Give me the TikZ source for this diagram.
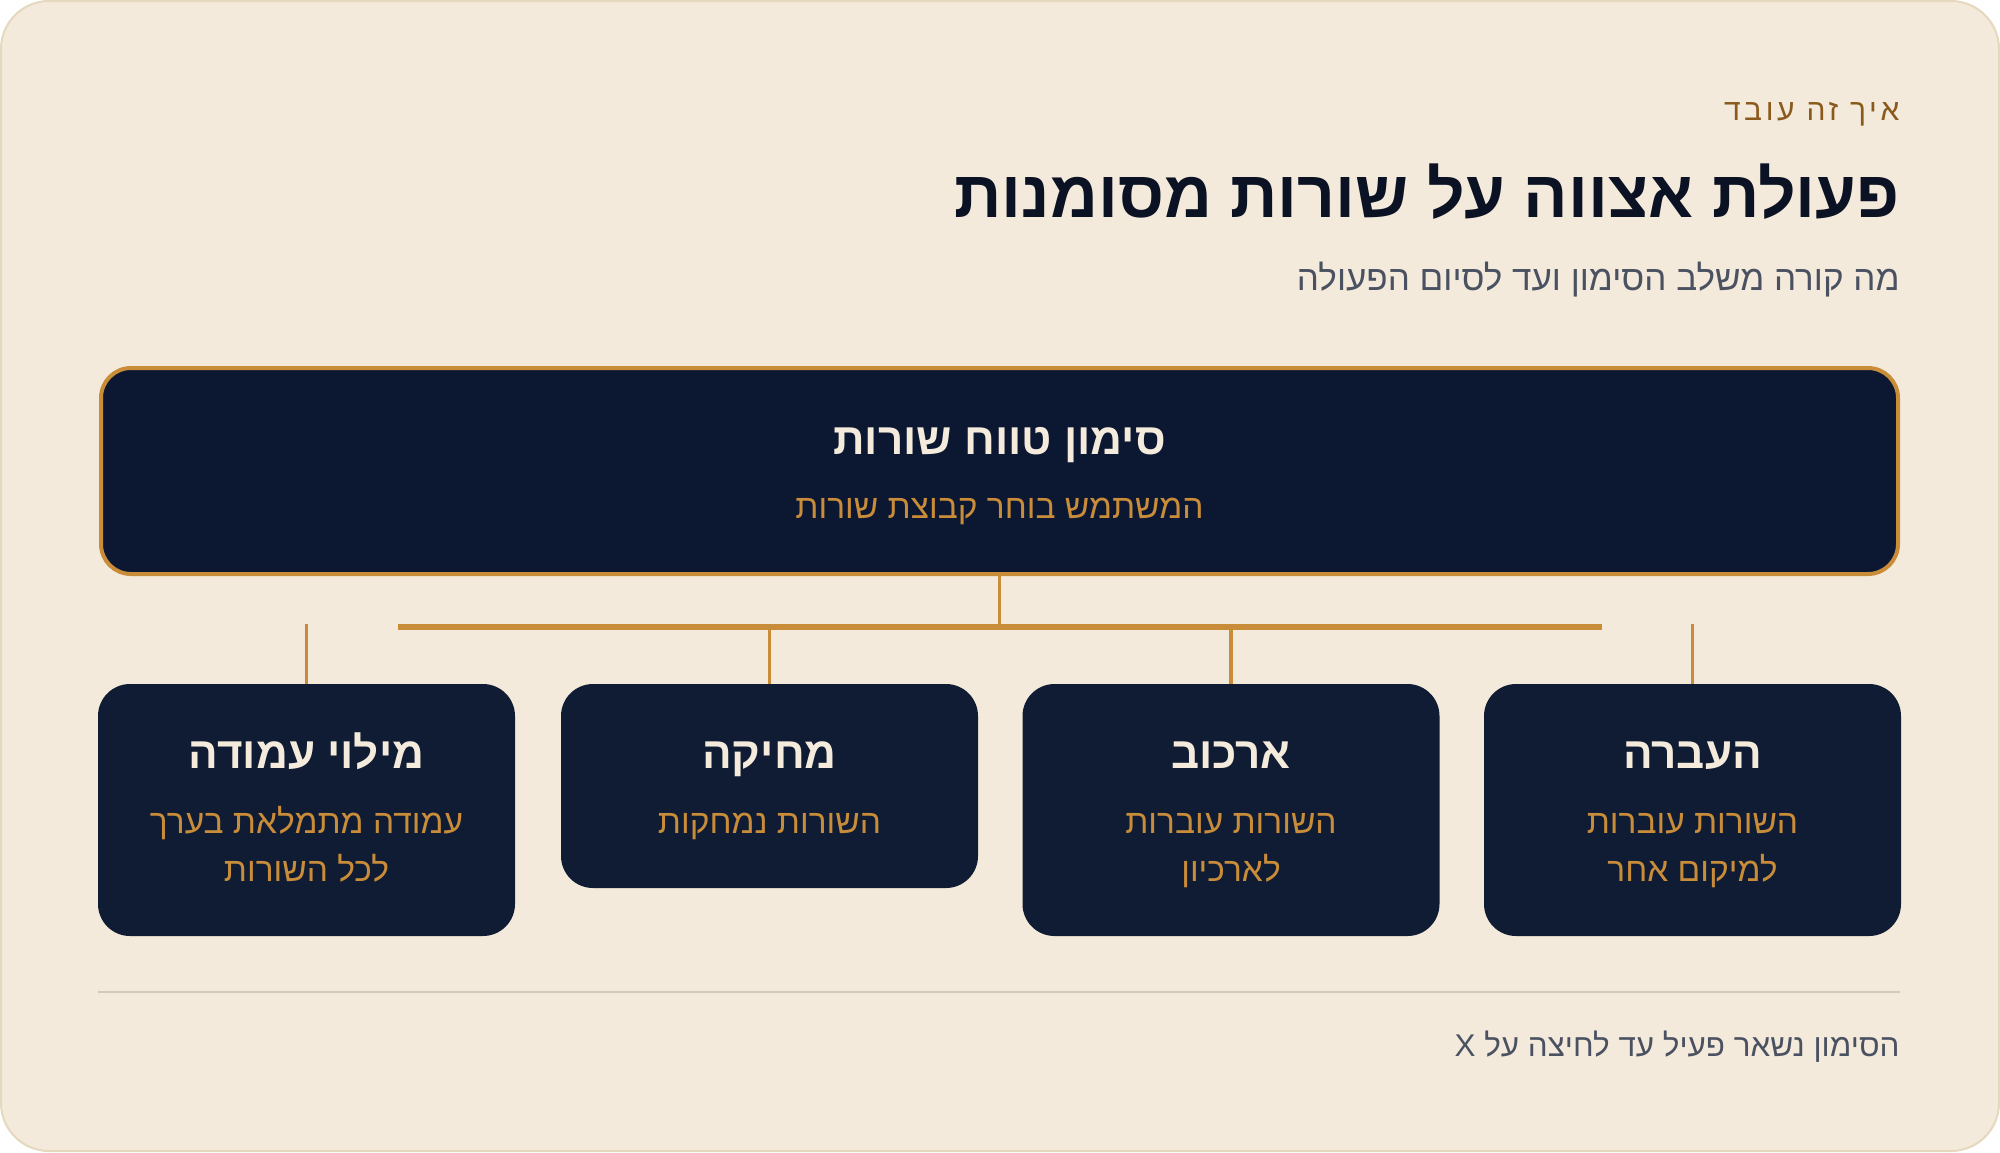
\documentclass[tikz,border=0pt]{standalone}
\usepackage{fontspec}
\setmainfont{Liberation Sans}
\newfontfamily\hebfont[Script=Hebrew]{Liberation Sans}
\newfontfamily\hebspaced[Script=Hebrew,LetterSpace=12]{Liberation Sans}
\TeXXeTstate=1
\usetikzlibrary{positioning}

\definecolor{paper}{HTML}{F4EADB}
\definecolor{paperline}{HTML}{E4D9BF}
\definecolor{topnavy}{HTML}{0C1731}
\definecolor{cardnavy}{HTML}{0F1C33}
\definecolor{gold}{HTML}{C98D3A}
\definecolor{cream}{HTML}{F5EBDD}
\definecolor{kicker}{HTML}{8A5A1C}
\definecolor{ink}{HTML}{0B1224}
\definecolor{slate}{HTML}{4A5262}
\definecolor{rule}{HTML}{D3C9B6}

\newcommand{\heb}[1]{\beginR #1\endR}

\begin{document}
\begin{tikzpicture}[x=1pt,y=-1pt,
    card/.style={fill=cardnavy,rounded corners=32pt,inner sep=0pt,minimum width=417pt},
    link/.style={draw=gold,line width=3.5pt},
    head/.style={anchor=base,text=cream,font=\hebfont\bfseries\fontsize{44}{52}\selectfont},
    sub/.style={anchor=base,text=gold,align=center,font=\hebfont\fontsize{33.5}{48}\selectfont}]
    \useasboundingbox (0,0) rectangle (2000,1152);
    \draw[fill=paper,draw=paperline,line width=2pt,rounded corners=48pt] (1,1) rectangle (1999,1151);

    % header
    \node[anchor=base east,text=kicker,font=\hebspaced\fontsize{30}{36}\selectfont] (kick) at (1903,120) {\heb{איך זה עובד}};
    \node[anchor=base east,text=ink,font=\hebfont\bfseries\fontsize{66}{72}\selectfont] (title) at (1903,217) {\heb{פעולת אצווה על שורות מסומנות}};
    \node[anchor=base east,text=slate,font=\hebfont\fontsize{35}{40}\selectfont] (subtitle) at (1903,290) {\heb{מה קורה משלב הסימון ועד לסיום הפעולה}};

    % selection box
    \node[fill=topnavy,draw=gold,line width=4pt,rounded corners=30pt,minimum width=1797pt,minimum height=206pt] (top) at (999.5,471) {};
    \node[head] (toph) at (999.5,454) {\heb{סימון טווח שורות}};
    \node[sub] (tops) at (999.5,518) {\heb{המשתמש בוחר קבוצת שורות}};

    % actions
    \node[card,minimum height=252pt] (move) at (1692.5,810) {};
    \node[card,minimum height=252pt] (arch) at (1231,810) {};
    \node[card,minimum height=204pt] (del) at (769.5,786) {};
    \node[card,minimum height=252pt] (fill) at (306.5,810) {};

    \node[head] (moveh) at (1692.5,768) {\heb{העברה}};
    \node[head] (archh) at (1231,768) {\heb{ארכוב}};
    \node[head] (delh) at (769.5,768) {\heb{מחיקה}};
    \node[head] (fillh) at (306.5,768) {\heb{מילוי עמודה}};

    % two-line texts sit on their last line
    \node[sub] (moves) at (1692.5,881) {\heb{השורות עוברות}\\\heb{למיקום אחר}};
    \node[sub] (archs) at (1231,881) {\heb{השורות עוברות}\\\heb{לארכיון}};
    \node[sub] (dels) at (769.5,833) {\heb{השורות נמחקות}};
    \node[sub] (fills) at (306.5,881) {\heb{עמודה מתמלאת בערך}\\\heb{לכל השורות}};

    % connectors
    \coordinate (barL) at (398,627);
    \coordinate (barR) at (1602,627);
    \draw[link,line width=6pt] (barL) -- (barR);
    \draw[link] (top.south) -- (top.south |- barL);
    \draw[link] ([yshift=3pt]barL -| move.north) -- (move.north);
    \draw[link] (barL -| arch.north) -- (arch.north);
    \draw[link] (barL -| del.north) -- (del.north);
    \draw[link] ([yshift=3pt]barL -| fill.north) -- (fill.north);

    % footer
    \draw[draw=rule,line width=2pt] (98,992) -- (1900,992);
    \node[anchor=base east,text=slate,font=\hebfont\fontsize{31.4}{36}\selectfont] (foot) at (1903,1056) {\heb{הסימון נשאר פעיל עד לחיצה על X}};
\end{tikzpicture}
\end{document}
